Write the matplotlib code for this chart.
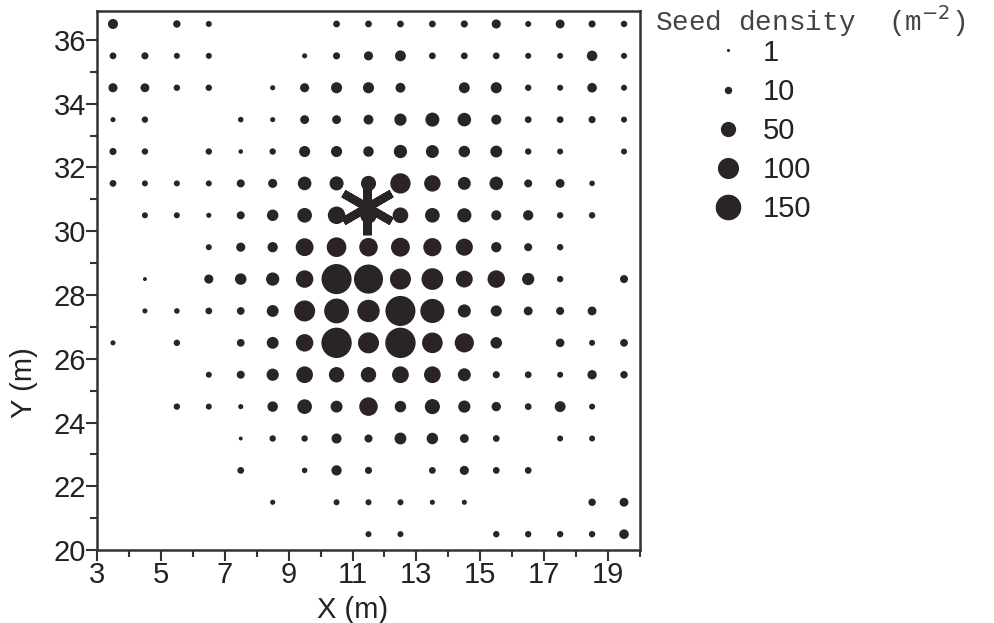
import numpy as np
import matplotlib.pyplot as plt
from matplotlib.lines import Line2D
from matplotlib.ticker import MultipleLocator

plt.rcParams['font.family'] = ['Liberation Sans', 'DejaVu Sans']

ink = '#2a2427'

# grid cell centres (m)
xs = [3.5, 4.5, 5.5, 6.5, 7.5, 8.5, 9.5, 10.5, 11.5, 12.5, 13.5, 14.5, 15.5, 16.5, 17.5, 18.5, 19.5]
ys = [36.5, 35.5, 34.5, 33.5, 32.5, 31.5, 30.5, 29.5, 28.5, 27.5, 26.5, 25.5, 24.5, 23.5, 22.5, 21.5, 20.5]

# seed density (m-2), one row per y, left to right in x; 0 = no seeds
density = [
    [20, 0, 10, 6, 0, 0, 0, 8, 8, 8, 8, 9, 16, 6, 15, 9, 7],
    [8, 9, 6, 6, 0, 0, 4, 9, 16, 24, 8, 8, 8, 6, 6, 22, 6],
    [16, 15, 7, 7, 0, 4, 16, 25, 25, 19, 0, 24, 25, 7, 6, 18, 6],
    [4, 7, 0, 0, 5, 4, 15, 15, 19, 31, 42, 39, 20, 8, 8, 9, 6],
    [9, 7, 0, 7, 3, 7, 25, 25, 22, 37, 35, 27, 29, 7, 6, 0, 6],
    [8, 6, 6, 6, 12, 16, 39, 42, 49, 92, 59, 35, 39, 12, 15, 5, 0],
    [0, 6, 6, 4, 12, 27, 46, 67, 59, 53, 46, 43, 20, 21, 7, 7, 0],
    [0, 0, 0, 6, 16, 21, 70, 86, 76, 79, 73, 64, 21, 12, 7, 0, 0],
    [0, 2, 0, 16, 27, 37, 67, 210, 196, 99, 106, 62, 67, 31, 7, 0, 12],
    [0, 4, 5, 8, 11, 29, 99, 140, 113, 209, 132, 36, 25, 15, 12, 15, 0],
    [4, 0, 7, 0, 11, 29, 67, 214, 99, 214, 95, 82, 27, 0, 14, 6, 11],
    [0, 0, 0, 6, 12, 31, 61, 51, 51, 61, 61, 35, 9, 8, 6, 17, 10],
    [0, 0, 7, 6, 4, 22, 46, 29, 76, 27, 49, 31, 17, 8, 24, 6, 0],
    [0, 0, 0, 0, 2, 7, 7, 20, 12, 29, 27, 15, 8, 0, 6, 6, 0],
    [0, 0, 0, 0, 8, 0, 5, 21, 9, 0, 8, 16, 8, 8, 0, 0, 0],
    [0, 0, 0, 0, 0, 4, 0, 6, 6, 6, 4, 4, 0, 0, 0, 10, 15],
    [0, 0, 0, 0, 0, 0, 0, 0, 6, 6, 0, 0, 7, 7, 7, 7, 18],
]

# parent tree position
tree_x = 11.45
tree_y = 30.75

legend_values = [1, 10, 50, 100, 150]


def marker_diam(v):
    # dot diameter in points, area ~ density, plus a little ink spread
    return 1.44 * np.sqrt(v) + 0.8


X, Y = np.meshgrid(xs, ys)
D = np.array(density, dtype=float)
keep = D > 0

fig = plt.figure(figsize=(9.95, 6.23), dpi=100)
ax = fig.add_axes([0.0975, 0.117, 0.5457, 0.865])

ax.scatter(X[keep], Y[keep], s=marker_diam(D[keep]) ** 2, color=ink,
           edgecolors='none', zorder=2)
ax.plot(tree_x, tree_y, marker=(6, 2, 0), markersize=40, mew=6,
        color=ink, ls='', zorder=3)

ax.set_xlim(3, 20)
ax.set_ylim(20, 36.9)
ax.xaxis.set_minor_locator(MultipleLocator(1))
ax.yaxis.set_minor_locator(MultipleLocator(1))
ax.set_xticks(np.arange(3, 20, 2))
ax.set_yticks(np.arange(20, 37, 2))

ax.tick_params(which='major', direction='out', length=8, width=1.5,
               labelsize=21, pad=0, color='#333333', labelcolor='#222222')
ax.tick_params(which='minor', direction='out', length=5, width=1.5, color='#333333')
for sp in ax.spines.values():
    sp.set_linewidth(1.8)
    sp.set_color('#333333')

ax.set_xlabel('X (m)', fontsize=21, color='#222222')
ax.set_ylabel('Y (m)', fontsize=21, color='#222222')
ax.xaxis.set_label_coords(0.47, -0.085)
ax.yaxis.set_label_coords(-0.108, 0.31)

handles = [Line2D([], [], marker='o', ls='', color=ink, mec='none',
                  markersize=marker_diam(v)) for v in legend_values]
fig.legend(handles, [str(v) for v in legend_values], loc='upper left',
           bbox_to_anchor=(0.7085, 0.938), frameon=False, fontsize=21,
           handlelength=1.6, handletextpad=0.38, labelspacing=0.38,
           borderpad=0, borderaxespad=0, labelcolor='#222222')

fig.text(0.658, 0.967, r'Seed density  (m$^{\mathsf{-2}}$)', fontsize=20,
         family=['Liberation Mono', 'DejaVu Sans Mono'], color='#444444',
         va='center', ha='left')

fig.savefig('out.png', dpi=100, facecolor='white')
